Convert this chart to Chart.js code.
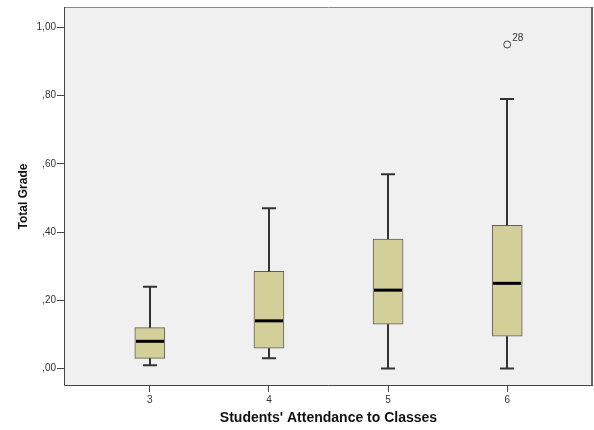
<!DOCTYPE html>
<html>
<head>
<meta charset="utf-8">
<script src="https://cdn.jsdelivr.net/npm/chart.js@4.4.1/dist/chart.umd.min.js"></script>
<style>
  body { margin: 0; background: #ffffff; }
  #wrap { width: 594px; height: 430px; }
</style>
</head>
<body>
<div id="wrap"><canvas id="gradeBox" width="594" height="430"></canvas></div>
<script>
// attendance groups and the five-number summary of each group
const attendance = [3, 4, 5, 6];
const minVals    = [0.01, 0.03, 0.00, 0.00];
const q1Vals     = [0.03, 0.06, 0.13, 0.095];
const medianVals = [0.08, 0.14, 0.23, 0.25];
const q3Vals     = [0.12, 0.285, 0.38, 0.42];
const maxVals    = [0.24, 0.47, 0.57, 0.79];

// outlying cases (group, grade, case number)
const outlierGroup = [6];
const outlierGrade = [0.95];
const outlierCase  = ['28'];

const yTicks = [0, 0.2, 0.4, 0.6, 0.8, 1.0];

const fmtGrade = v => v.toFixed(2).replace('.', ',').replace(/^0/, '');

// plot background and frame
const frame = {
  id: 'frame',
  beforeDraw(chart) {
    const { ctx, chartArea: a } = chart;
    ctx.save();
    ctx.fillStyle = '#f0f0f0';
    ctx.fillRect(a.left, a.top, a.right - a.left, a.bottom - a.top);
    ctx.restore();
  },
  afterDraw(chart) {
    const { ctx, chartArea: a } = chart;
    ctx.save();
    ctx.strokeStyle = '#8a8a8a';
    ctx.lineWidth = 1;
    ctx.beginPath();
    ctx.moveTo(a.left + 0.5, a.top + 0.5);
    ctx.lineTo(a.right - 0.5, a.top + 0.5);
    ctx.stroke();
    ctx.strokeStyle = '#666666';
    ctx.lineWidth = 2;
    ctx.beginPath();
    ctx.moveTo(a.right - 1, a.top);
    ctx.lineTo(a.right - 1, a.bottom);
    ctx.stroke();
    ctx.strokeStyle = '#444444';
    ctx.lineWidth = 1;
    ctx.beginPath();
    ctx.moveTo(a.left + 0.5, a.top);
    ctx.lineTo(a.left + 0.5, a.bottom - 0.5);
    ctx.lineTo(a.right, a.bottom - 0.5);
    ctx.stroke();
    ctx.restore();
  }
};

// whiskers, caps and medians on top of the box bars
const whiskers = {
  id: 'whiskers',
  afterDatasetsDraw(chart) {
    const { ctx, scales: { x, y } } = chart;
    const half = 15, cap = 7;
    ctx.save();
    attendance.forEach((g, i) => {
      const cx = Math.round(x.getPixelForValue(g));
      ctx.strokeStyle = '#333333';
      ctx.lineWidth = 2;
      ctx.beginPath();
      ctx.moveTo(cx, y.getPixelForValue(q3Vals[i]));
      ctx.lineTo(cx, y.getPixelForValue(maxVals[i]));
      ctx.moveTo(cx, y.getPixelForValue(q1Vals[i]));
      ctx.lineTo(cx, y.getPixelForValue(minVals[i]));
      ctx.moveTo(cx - cap, y.getPixelForValue(maxVals[i]));
      ctx.lineTo(cx + cap, y.getPixelForValue(maxVals[i]));
      ctx.moveTo(cx - cap, y.getPixelForValue(minVals[i]));
      ctx.lineTo(cx + cap, y.getPixelForValue(minVals[i]));
      ctx.stroke();
      ctx.strokeStyle = '#000000';
      ctx.lineWidth = 3;
      ctx.beginPath();
      ctx.moveTo(cx - half + 1, y.getPixelForValue(medianVals[i]));
      ctx.lineTo(cx + half - 1, y.getPixelForValue(medianVals[i]));
      ctx.stroke();
    });
    // case numbers next to outliers
    ctx.fillStyle = '#333333';
    ctx.font = '10px "Liberation Sans", Arial, sans-serif';
    ctx.textBaseline = 'bottom';
    outlierGroup.forEach((g, i) => {
      ctx.fillText(outlierCase[i], x.getPixelForValue(g) + 5, y.getPixelForValue(outlierGrade[i]) - 1);
    });
    ctx.restore();
  }
};

const tickFont = { family: '"Liberation Sans", Arial, sans-serif', size: 10 };

new Chart(document.getElementById('gradeBox'), {
  data: {
    datasets: [
      {
        type: 'bar',
        data: attendance.map((g, i) => ({ x: g, y: [q1Vals[i], q3Vals[i]] })),
        backgroundColor: '#d3cf99',
        borderColor: '#5e5e5e',
        borderWidth: 1,
        borderSkipped: false,
        barThickness: 30
      },
      {
        type: 'scatter',
        data: outlierGroup.map((g, i) => ({ x: g, y: outlierGrade[i] })),
        pointStyle: 'circle',
        pointRadius: 3.5,
        backgroundColor: 'rgba(0,0,0,0)',
        borderColor: '#444444',
        borderWidth: 1
      }
    ]
  },
  options: {
    responsive: false,
    animation: false,
    layout: { autoPadding: false, padding: { top: 7, right: 1, left: 0, bottom: 0 } },
    plugins: { legend: { display: false }, tooltip: { enabled: false } },
    scales: {
      x: {
        type: 'linear',
        min: 2.28,
        max: 6.72,
        offset: false,
        afterBuildTicks: s => { s.ticks = attendance.map(v => ({ value: v })); },
        afterFit: s => { s.height = 44; s.paddingLeft = 0; s.paddingRight = 0; },
        grid: { drawOnChartArea: false, offset: false, tickLength: 6, color: '#444444' },
        border: { display: false },
        ticks: { color: '#333333', font: tickFont, padding: 2, maxRotation: 0, callback: v => String(v) },
        title: {
          display: true,
          text: "Students' Attendance to Classes",
          color: '#111111',
          font: { family: '"Liberation Sans", Arial, sans-serif', size: 14, weight: 'bold' },
          padding: { top: 0, bottom: 3 }
        }
      },
      y: {
        min: -0.051,
        max: 1.06,
        afterBuildTicks: s => { s.ticks = yTicks.map(v => ({ value: v })); },
        afterFit: s => { s.width = 64; },
        grid: { drawOnChartArea: false, tickLength: 7, color: '#444444' },
        border: { display: false },
        ticks: { color: '#333333', font: tickFont, padding: 1, callback: v => fmtGrade(v) },
        title: {
          display: true,
          text: 'Total Grade',
          color: '#111111',
          font: { family: '"Liberation Sans", Arial, sans-serif', size: 12, weight: 'bold' },
          padding: { top: 16, bottom: 0 }
        }
      }
    }
  },
  plugins: [frame, whiskers]
});
</script>
</body>
</html>
